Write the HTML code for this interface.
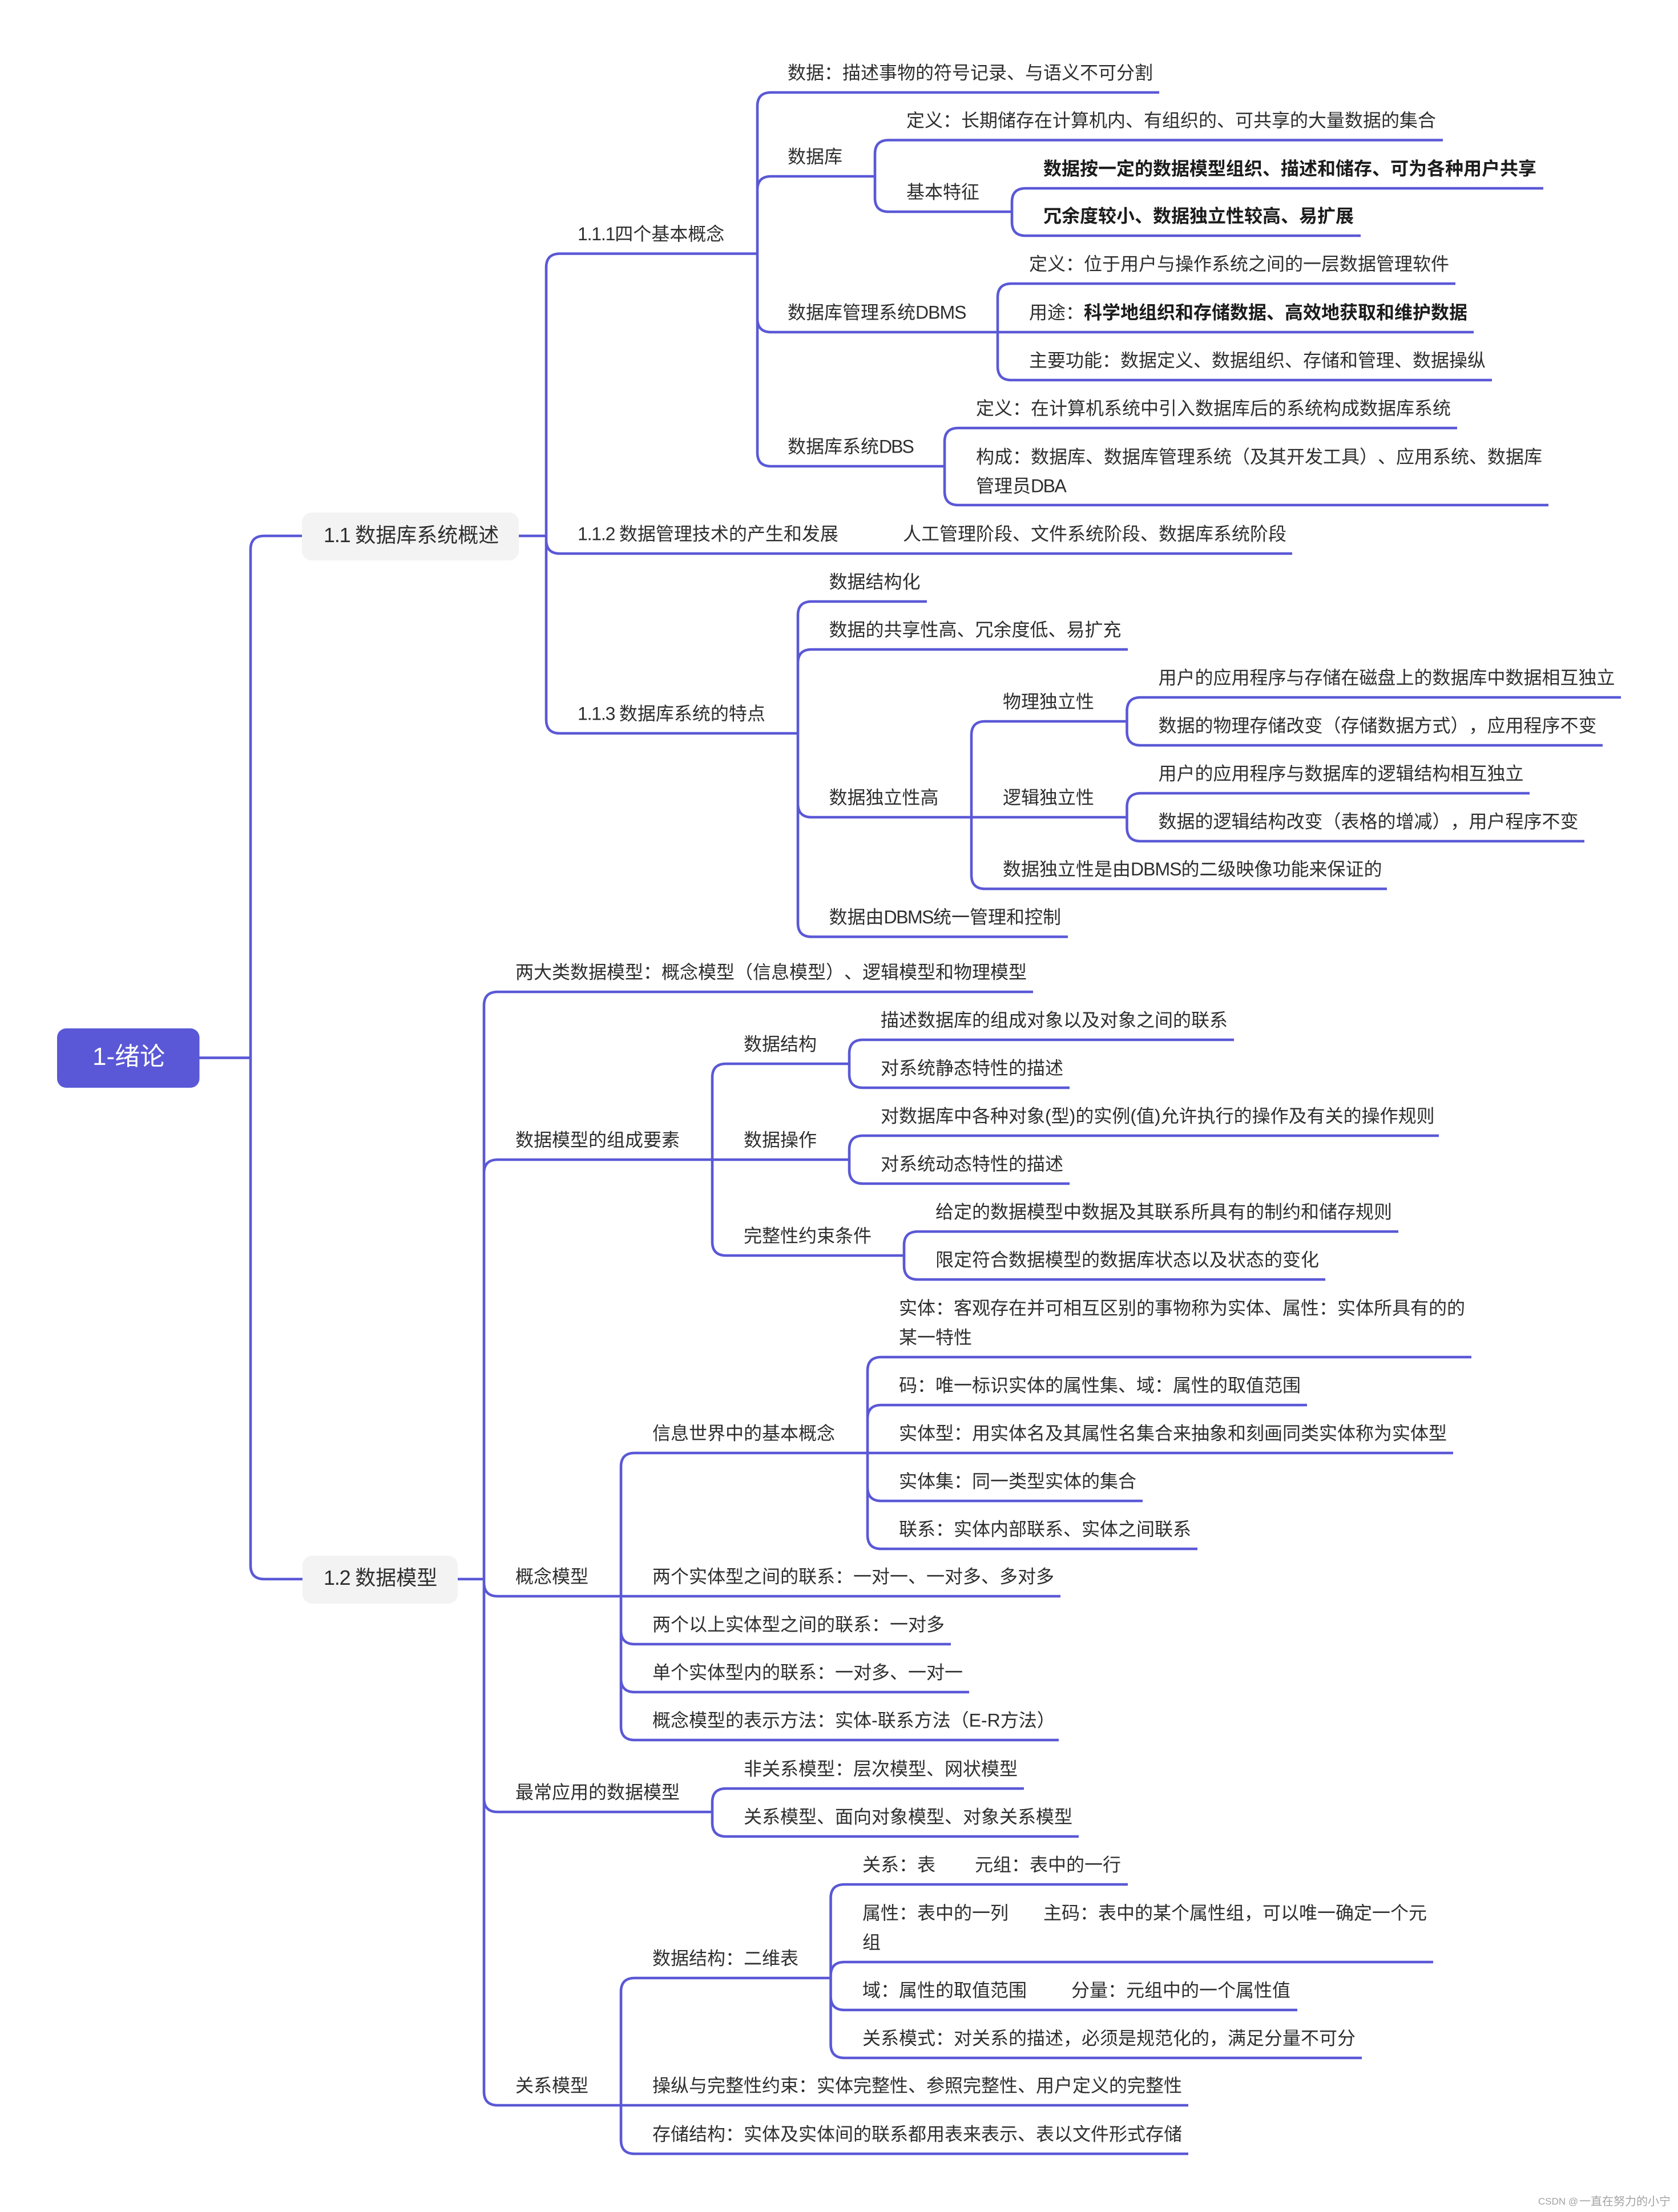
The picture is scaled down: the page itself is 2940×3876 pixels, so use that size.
<!DOCTYPE html>
<html lang="zh"><head><meta charset="utf-8"><title>1-绪论</title>
<style>
html,body{margin:0;padding:0;background:#fff}
svg{display:block}
text{font-family:"Liberation Sans","Noto Sans CJK SC",sans-serif;font-size:32px;fill:#2e2e2e;text-spacing-trim:space-all;font-feature-settings:"palt" 0,"chws" 0,"halt" 0}
.b{font-weight:700;fill:#1c1c1c}
.l1{font-size:36px}
.n{letter-spacing:-1.2px}
.d{letter-spacing:-1.5px}
</style></head><body>
<svg xmlns="http://www.w3.org/2000/svg" width="2940" height="3876" viewBox="0 0 2940 3876">
<rect width="2940" height="3876" fill="#fff"/>
<g fill="none" stroke="#5a58d6" stroke-width="4.6">
<path d="M349 1853.6H439M439 1853.6V963Q439 939 463 939H529M439 1853.6V2743Q439 2767 463 2767H530"/>
<path d="M909 939H957M957 939V468.5Q957 444.5 981 444.5H1327M957 939V946Q957 970 981 970H2264M957 939V1261Q957 1285 981 1285H1398"/>
<path d="M1327 444.5V186Q1327 162 1351 162H2031M1327 444.5V333Q1327 309 1351 309H1533M1327 444.5V558Q1327 582 1351 582H1748M1327 444.5V793Q1327 817 1351 817H1655"/>
<path d="M1533 309V269.5Q1533 245.5 1557 245.5H2528M1533 309V347Q1533 371 1557 371H1773"/>
<path d="M1773 371V354Q1773 330 1797 330H2704M1773 371V389Q1773 413 1797 413H2384"/>
<path d="M1748 582V521Q1748 497 1772 497H2550M1748 582H2582M1748 582V642Q1748 666 1772 666H2614"/>
<path d="M1655 817V774Q1655 750 1679 750H2553M1655 817V861Q1655 885 1679 885H2713"/>
<path d="M1398 1285V1078Q1398 1054 1422 1054H1624M1398 1285V1162Q1398 1138 1422 1138H1976M1398 1285V1408Q1398 1432 1422 1432H1702M1398 1285V1617.5Q1398 1641.5 1422 1641.5H1871"/>
<path d="M1702 1432V1288Q1702 1264 1726 1264H1974.5M1702 1432H1974.5M1702 1432V1533.5Q1702 1557.5 1726 1557.5H2430"/>
<path d="M1974.5 1264V1246Q1974.5 1222 1998.5 1222H2840M1974.5 1264V1282Q1974.5 1306 1998.5 1306H2808"/>
<path d="M1974.5 1432V1414Q1974.5 1390 1998.5 1390H2680M1974.5 1432V1450Q1974.5 1474 1998.5 1474H2776"/>
<path d="M802 2767H848M848 2767V1762Q848 1738 872 1738H1810M848 2767V2056Q848 2032 872 2032H1248M848 2767V2773Q848 2797 872 2797H1088M848 2767V3151Q848 3175 872 3175H1248M848 2767V3665Q848 3689 872 3689H1088"/>
<path d="M1248 2032V1888Q1248 1864 1272 1864H1488M1248 2032H1488M1248 2032V2176Q1248 2200 1272 2200H1584"/>
<path d="M1488 1864V1846Q1488 1822 1512 1822H2162M1488 1864V1882Q1488 1906 1512 1906H1874"/>
<path d="M1488 2032V2014Q1488 1990 1512 1990H2521M1488 2032V2050Q1488 2074 1512 2074H1874"/>
<path d="M1584 2200V2182Q1584 2158 1608 2158H2450M1584 2200V2218Q1584 2242 1608 2242H2322"/>
<path d="M1088 2797V2570Q1088 2546 1112 2546H1520M1088 2797H1858M1088 2797V2857Q1088 2881 1112 2881H1666M1088 2797V2941Q1088 2965 1112 2965H1698M1088 2797V3025Q1088 3049 1112 3049H1855"/>
<path d="M1520 2546V2402Q1520 2378 1544 2378H2578M1520 2546V2486Q1520 2462 1544 2462H2290M1520 2546H2546M1520 2546V2606Q1520 2630 1544 2630H2002M1520 2546V2690Q1520 2714 1544 2714H2098"/>
<path d="M1248 3175V3158Q1248 3134 1272 3134H1794M1248 3175V3194Q1248 3218 1272 3218H1890"/>
<path d="M1088 3689V3490Q1088 3466 1112 3466H1455.5M1088 3689H2082M1088 3689V3750Q1088 3774 1112 3774H2082"/>
<path d="M1455.5 3466V3326Q1455.5 3302 1479.5 3302H1976M1455.5 3466V3462Q1455.5 3438 1479.5 3438H2511M1455.5 3466V3498Q1455.5 3522 1479.5 3522H2273M1455.5 3466V3582Q1455.5 3606 1479.5 3606H2386"/>
</g>
<rect x="100" y="1802" width="249.5" height="104" rx="16" fill="#5a58d6"/>
<rect x="529" y="898" width="380" height="84" rx="17" fill="#f3f3f3"/>
<rect x="530" y="2726" width="272" height="84" rx="17" fill="#f3f3f3"/>
<text x="162" y="1866" style="font-size:44px;fill:#fff">1-绪论</text>
<text class="l1" x="567" y="950"><tspan class="n">1.1 </tspan>数据库系统概述</text>
<text class="l1" x="567" y="2777"><tspan class="n">1.2 </tspan>数据模型</text>
<g transform="translate(0,-1)">
<text x="1380" y="139.5">数据：描述事物的符号记录、与语义不可分割</text>
<text x="1380" y="286.5">数据库</text>
<text x="1588" y="223">定义：长期储存在计算机内、有组织的、可共享的大量数据的集合</text>
<text x="1588" y="348.5">基本特征</text>
<text class="b" x="1828" y="307.5">数据按一定的数据模型组织、描述和储存、可为各种用户共享</text>
<text class="b" x="1828" y="390.5">冗余度较小、数据独立性较高、易扩展</text>
<text x="1012" y="422"><tspan class="n">1.1.1</tspan>四个基本概念</text>
<text x="1380" y="559.5">数据库管理系统<tspan class="d" style="letter-spacing:-1px">DBMS</tspan></text>
<text x="1803" y="474.5">定义：位于用户与操作系统之间的一层数据管理软件</text>
<text x="1803" y="559.5">用途：<tspan class="b">科学地组织和存储数据、高效地获取和维护数据</tspan></text>
<text x="1803" y="643.5">主要功能：数据定义、数据组织、存储和管理、数据操纵</text>
<text x="1380" y="794.5">数据库系统<tspan class="d" style="letter-spacing:-2px">DBS</tspan></text>
<text x="1710" y="727.5">定义：在计算机系统中引入数据库后的系统构成数据库系统</text>
<text x="1710" y="812.5">构成：数据库、数据库管理系统（及其开发工具）、应用系统、数据库</text>
<text x="1710" y="863.5">管理员<tspan class="d">DBA</tspan></text>
<text x="1012" y="947.5"><tspan class="n">1.1.2 </tspan>数据管理技术的产生和发展</text>
<text x="1582" y="947.5">人工管理阶段、文件系统阶段、数据库系统阶段</text>
<text x="1012" y="1262.5"><tspan class="n">1.1.3 </tspan>数据库系统的特点</text>
<text x="1452.5" y="1031.5">数据结构化</text>
<text x="1452.5" y="1115.5">数据的共享性高、冗余度低、易扩充</text>
<text x="1452.5" y="1409.5">数据独立性高</text>
<text x="1452.5" y="1619">数据由<tspan class="d">DBMS</tspan>统一管理和控制</text>
<text x="1757" y="1241.5">物理独立性</text>
<text x="1757" y="1409.5">逻辑独立性</text>
<text x="1757" y="1535">数据独立性是由<tspan class="d" style="letter-spacing:-1px">DBMS</tspan>的二级映像功能来保证的</text>
<text x="2029.5" y="1199.5">用户的应用程序与存储在磁盘上的数据库中数据相互独立</text>
<text x="2029.5" y="1283.5">数据的物理存储改变（存储数据方式），应用程序不变</text>
<text x="2029.5" y="1367.5">用户的应用程序与数据库的逻辑结构相互独立</text>
<text x="2029.5" y="1451.5">数据的逻辑结构改变（表格的增减），用户程序不变</text>

<text x="903" y="1715.5">两大类数据模型：概念模型（信息模型）、逻辑模型和物理模型</text>
<text x="903" y="2009.5">数据模型的组成要素</text>
<text x="1303" y="1841.5">数据结构</text>
<text x="1303" y="2009.5">数据操作</text>
<text x="1303" y="2177.5">完整性约束条件</text>
<text x="1543" y="1799.5">描述数据库的组成对象以及对象之间的联系</text>
<text x="1543" y="1883.5">对系统静态特性的描述</text>
<text x="1543" y="1967.5">对数据库中各种对象(型)的实例(值)允许执行的操作及有关的操作规则</text>
<text x="1543" y="2051.5">对系统动态特性的描述</text>
<text x="1639" y="2135.5">给定的数据模型中数据及其联系所具有的制约和储存规则</text>
<text x="1639" y="2219.5">限定符合数据模型的数据库状态以及状态的变化</text>

<text x="1575" y="2304">实体：客观存在并可相互区别的事物称为实体、属性：实体所具有的的</text>
<text x="1575" y="2355.5">某一特性</text>
<text x="1575" y="2439.5">码：唯一标识实体的属性集、域：属性的取值范围</text>
<text x="1575" y="2523.5">实体型：用实体名及其属性名集合来抽象和刻画同类实体称为实体型</text>
<text x="1575" y="2607.5">实体集：同一类型实体的集合</text>
<text x="1575" y="2691.5">联系：实体内部联系、实体之间联系</text>
<text x="1143" y="2523.5">信息世界中的基本概念</text>
<text x="903" y="2774.5">概念模型</text>
<text x="1143" y="2774.5">两个实体型之间的联系：一对一、一对多、多对多</text>
<text x="1143" y="2858.5">两个以上实体型之间的联系：一对多</text>
<text x="1143" y="2942.5">单个实体型内的联系：一对多、一对一</text>
<text x="1143" y="3026.5">概念模型的表示方法：实体-联系方法（E-R方法）</text>
<text x="903" y="3152.5">最常应用的数据模型</text>
<text x="1303" y="3111.5">非关系模型：层次模型、网状模型</text>
<text x="1303" y="3195.5">关系模型、面向对象模型、对象关系模型</text>
<text x="1143" y="3443.5">数据结构：二维表</text>
<text x="1511" y="3279.5">关系：表</text>
<text x="1708" y="3279.5">元组：表中的一行</text>
<text x="1511" y="3364">属性：表中的一列</text>
<text x="1828" y="3364">主码：表中的某个属性组，可以唯一确定一个元</text>
<text x="1511" y="3415.5">组</text>
<text x="1511" y="3499.5">域：属性的取值范围</text>
<text x="1877" y="3499.5">分量：元组中的一个属性值</text>
<text x="1511" y="3583.5">关系模式：对关系的描述，必须是规范化的，满足分量不可分</text>
<text x="903" y="3666.5">关系模型</text>
<text x="1143" y="3666.5">操纵与完整性约束：实体完整性、参照完整性、用户定义的完整性</text>
<text x="1143" y="3751.5">存储结构：实体及实体间的联系都用表来表示、表以文件形式存储</text>
</g>
<text x="2695" y="3863" style="font-size:17px;fill:#a3a3a3">CSDN @</text>
<text x="2767" y="3864" style="font-size:20px;fill:#a3a3a3">一直在努力的小宁</text>
</svg>
</body></html>
